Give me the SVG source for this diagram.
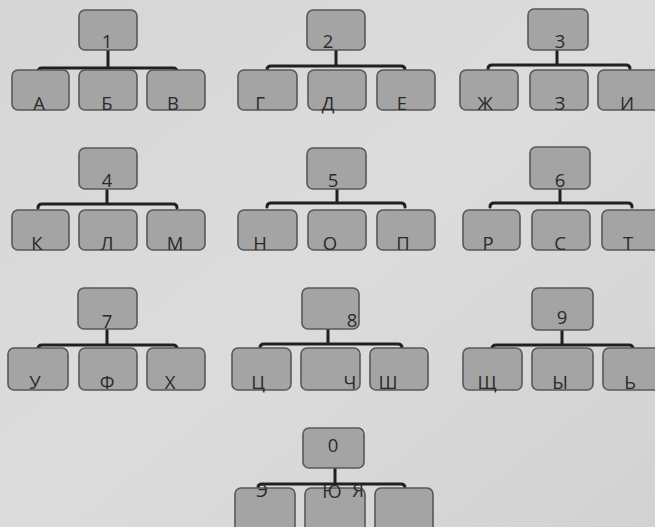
<svg xmlns="http://www.w3.org/2000/svg" width="655" height="527" viewBox="0 0 655 527">
<defs>
<linearGradient id="bg" x1="0" y1="0" x2="1" y2="1">
<stop offset="0" stop-color="#d6d6d6"/>
<stop offset="0.5" stop-color="#dcdcdc"/>
<stop offset="1" stop-color="#d2d2d2"/>
</linearGradient>
</defs>
<style>
.b{fill:#a4a4a4;stroke:#585858;stroke-width:1.6}
.t{font-family:"Open Sans","Liberation Sans",sans-serif;font-size:18.5px;fill:#2a2a2a;text-anchor:middle}
.c{fill:none;stroke:#202020;stroke-width:3;stroke-linecap:round;stroke-linejoin:round}
</style>
<rect width="655" height="527" fill="url(#bg)"/>
<g id="connectors">
<path class="c" d="M108 50V68M38 72Q38 68 42 68H173Q177 68 177 72"/>
<path class="c" d="M336 50V66M267 70Q267 66 271 66H401Q405 66 405 70"/>
<path class="c" d="M557 50V65M488 69Q488 65 492 65H626Q630 65 630 69"/>
<path class="c" d="M107 189V204M38 208Q38 204 42 204H173Q177 204 177 208"/>
<path class="c" d="M337 189V203M267 207Q267 203 271 203H401Q405 203 405 207"/>
<path class="c" d="M560 189V203M490 207Q490 203 494 203H628Q632 203 632 207"/>
<path class="c" d="M107 329V345M38 349Q38 345 42 345H173Q177 345 177 349"/>
<path class="c" d="M328 329V344M260 348Q260 344 264 344H398Q402 344 402 348"/>
<path class="c" d="M562 330V345M492 349Q492 345 496 345H629Q633 345 633 349"/>
<path class="c" d="M335 468V484M258 488Q258 484 262 484H401Q405 484 405 488"/>
</g>
<g id="n1"><rect class="b" x="79" y="10" width="58" height="40" rx="6"/><text class="t" x="107" y="48">1</text></g>
<g id="nA"><rect class="b" x="12" y="70" width="57" height="40" rx="6"/><text class="t" x="39" y="110">А</text></g>
<g id="nB"><rect class="b" x="79" y="70" width="58" height="40" rx="6"/><text class="t" x="107" y="110">Б</text></g>
<g id="nV"><rect class="b" x="147" y="70" width="58" height="40" rx="6"/><text class="t" x="173" y="110">В</text></g>
<g id="n2"><rect class="b" x="307" y="10" width="58" height="40" rx="6"/><text class="t" x="328" y="48">2</text></g>
<g id="nG"><rect class="b" x="238" y="70" width="59" height="40" rx="6"/><text class="t" x="260" y="110">Г</text></g>
<g id="nD"><rect class="b" x="308" y="70" width="58" height="40" rx="6"/><text class="t" x="328" y="110">Д</text></g>
<g id="nE"><rect class="b" x="377" y="70" width="58" height="40" rx="6"/><text class="t" x="402" y="110">Е</text></g>
<g id="n3"><rect class="b" x="528" y="9" width="60" height="41" rx="6"/><text class="t" x="560" y="48">3</text></g>
<g id="nZh"><rect class="b" x="460" y="70" width="58" height="40" rx="6"/><text class="t" x="485" y="110">Ж</text></g>
<g id="nZ"><rect class="b" x="530" y="70" width="58" height="40" rx="6"/><text class="t" x="560" y="110">З</text></g>
<g id="nI"><rect class="b" x="598" y="70" width="62" height="40" rx="6"/><text class="t" x="627" y="110">И</text></g>
<g id="n4"><rect class="b" x="79" y="148" width="58" height="41" rx="6"/><text class="t" x="107" y="187">4</text></g>
<g id="nK"><rect class="b" x="12" y="210" width="57" height="40" rx="6"/><text class="t" x="37" y="250">К</text></g>
<g id="nL"><rect class="b" x="79" y="210" width="58" height="40" rx="6"/><text class="t" x="107" y="250">Л</text></g>
<g id="nM"><rect class="b" x="147" y="210" width="58" height="40" rx="6"/><text class="t" x="175" y="250">М</text></g>
<g id="n5"><rect class="b" x="307" y="148" width="59" height="41" rx="6"/><text class="t" x="333" y="187">5</text></g>
<g id="nN"><rect class="b" x="238" y="210" width="59" height="40" rx="6"/><text class="t" x="260" y="250">Н</text></g>
<g id="nO"><rect class="b" x="308" y="210" width="58" height="40" rx="6"/><text class="t" x="330" y="250">О</text></g>
<g id="nP"><rect class="b" x="377" y="210" width="58" height="40" rx="6"/><text class="t" x="403" y="250">П</text></g>
<g id="n6"><rect class="b" x="530" y="147" width="60" height="42" rx="6"/><text class="t" x="560" y="187">6</text></g>
<g id="nR"><rect class="b" x="463" y="210" width="57" height="40" rx="6"/><text class="t" x="488" y="250">Р</text></g>
<g id="nS"><rect class="b" x="532" y="210" width="58" height="40" rx="6"/><text class="t" x="560" y="250">С</text></g>
<g id="nT"><rect class="b" x="602" y="210" width="60" height="40" rx="6"/><text class="t" x="628" y="250">Т</text></g>
<g id="n7"><rect class="b" x="78" y="288" width="59" height="41" rx="6"/><text class="t" x="107" y="328">7</text></g>
<g id="nU"><rect class="b" x="8" y="348" width="60" height="42" rx="6"/><text class="t" x="35" y="389">У</text></g>
<g id="nF"><rect class="b" x="79" y="348" width="58" height="42" rx="6"/><text class="t" x="107" y="389">Ф</text></g>
<g id="nH"><rect class="b" x="147" y="348" width="58" height="42" rx="6"/><text class="t" x="170" y="389">Х</text></g>
<g id="n8"><rect class="b" x="302" y="288" width="57" height="41" rx="6"/><text class="t" x="352" y="327">8</text></g>
<g id="nTs"><rect class="b" x="232" y="348" width="59" height="42" rx="6"/><text class="t" x="258" y="389">Ц</text></g>
<g id="nCh"><rect class="b" x="301" y="348" width="59" height="42" rx="6"/><text class="t" x="350" y="389">Ч</text></g>
<g id="nSh"><rect class="b" x="370" y="348" width="58" height="42" rx="6"/><text class="t" x="388" y="389">Ш</text></g>
<g id="n9"><rect class="b" x="532" y="288" width="61" height="42" rx="6"/><text class="t" x="562" y="324">9</text></g>
<g id="nShch"><rect class="b" x="463" y="348" width="59" height="42" rx="6"/><text class="t" x="487" y="389">Щ</text></g>
<g id="nY"><rect class="b" x="532" y="348" width="61" height="42" rx="6"/><text class="t" x="560" y="389">Ы</text></g>
<g id="nSoft"><rect class="b" x="603" y="348" width="60" height="42" rx="6"/><text class="t" x="630" y="389">Ь</text></g>
<g id="n0"><rect class="b" x="303" y="428" width="61" height="40" rx="6"/><text class="t" x="333" y="452">0</text></g>
<g id="nEh"><rect class="b" x="235" y="488" width="60" height="50" rx="6"/><text class="t" x="262" y="497">Э</text></g>
<g id="nYu"><rect class="b" x="305" y="488" width="60" height="50" rx="6"/><text class="t" x="332" y="498">Ю</text></g>
<g id="nYa"><rect class="b" x="375" y="488" width="58" height="50" rx="6"/><text class="t" x="358" y="497">Я</text></g>
</svg>
